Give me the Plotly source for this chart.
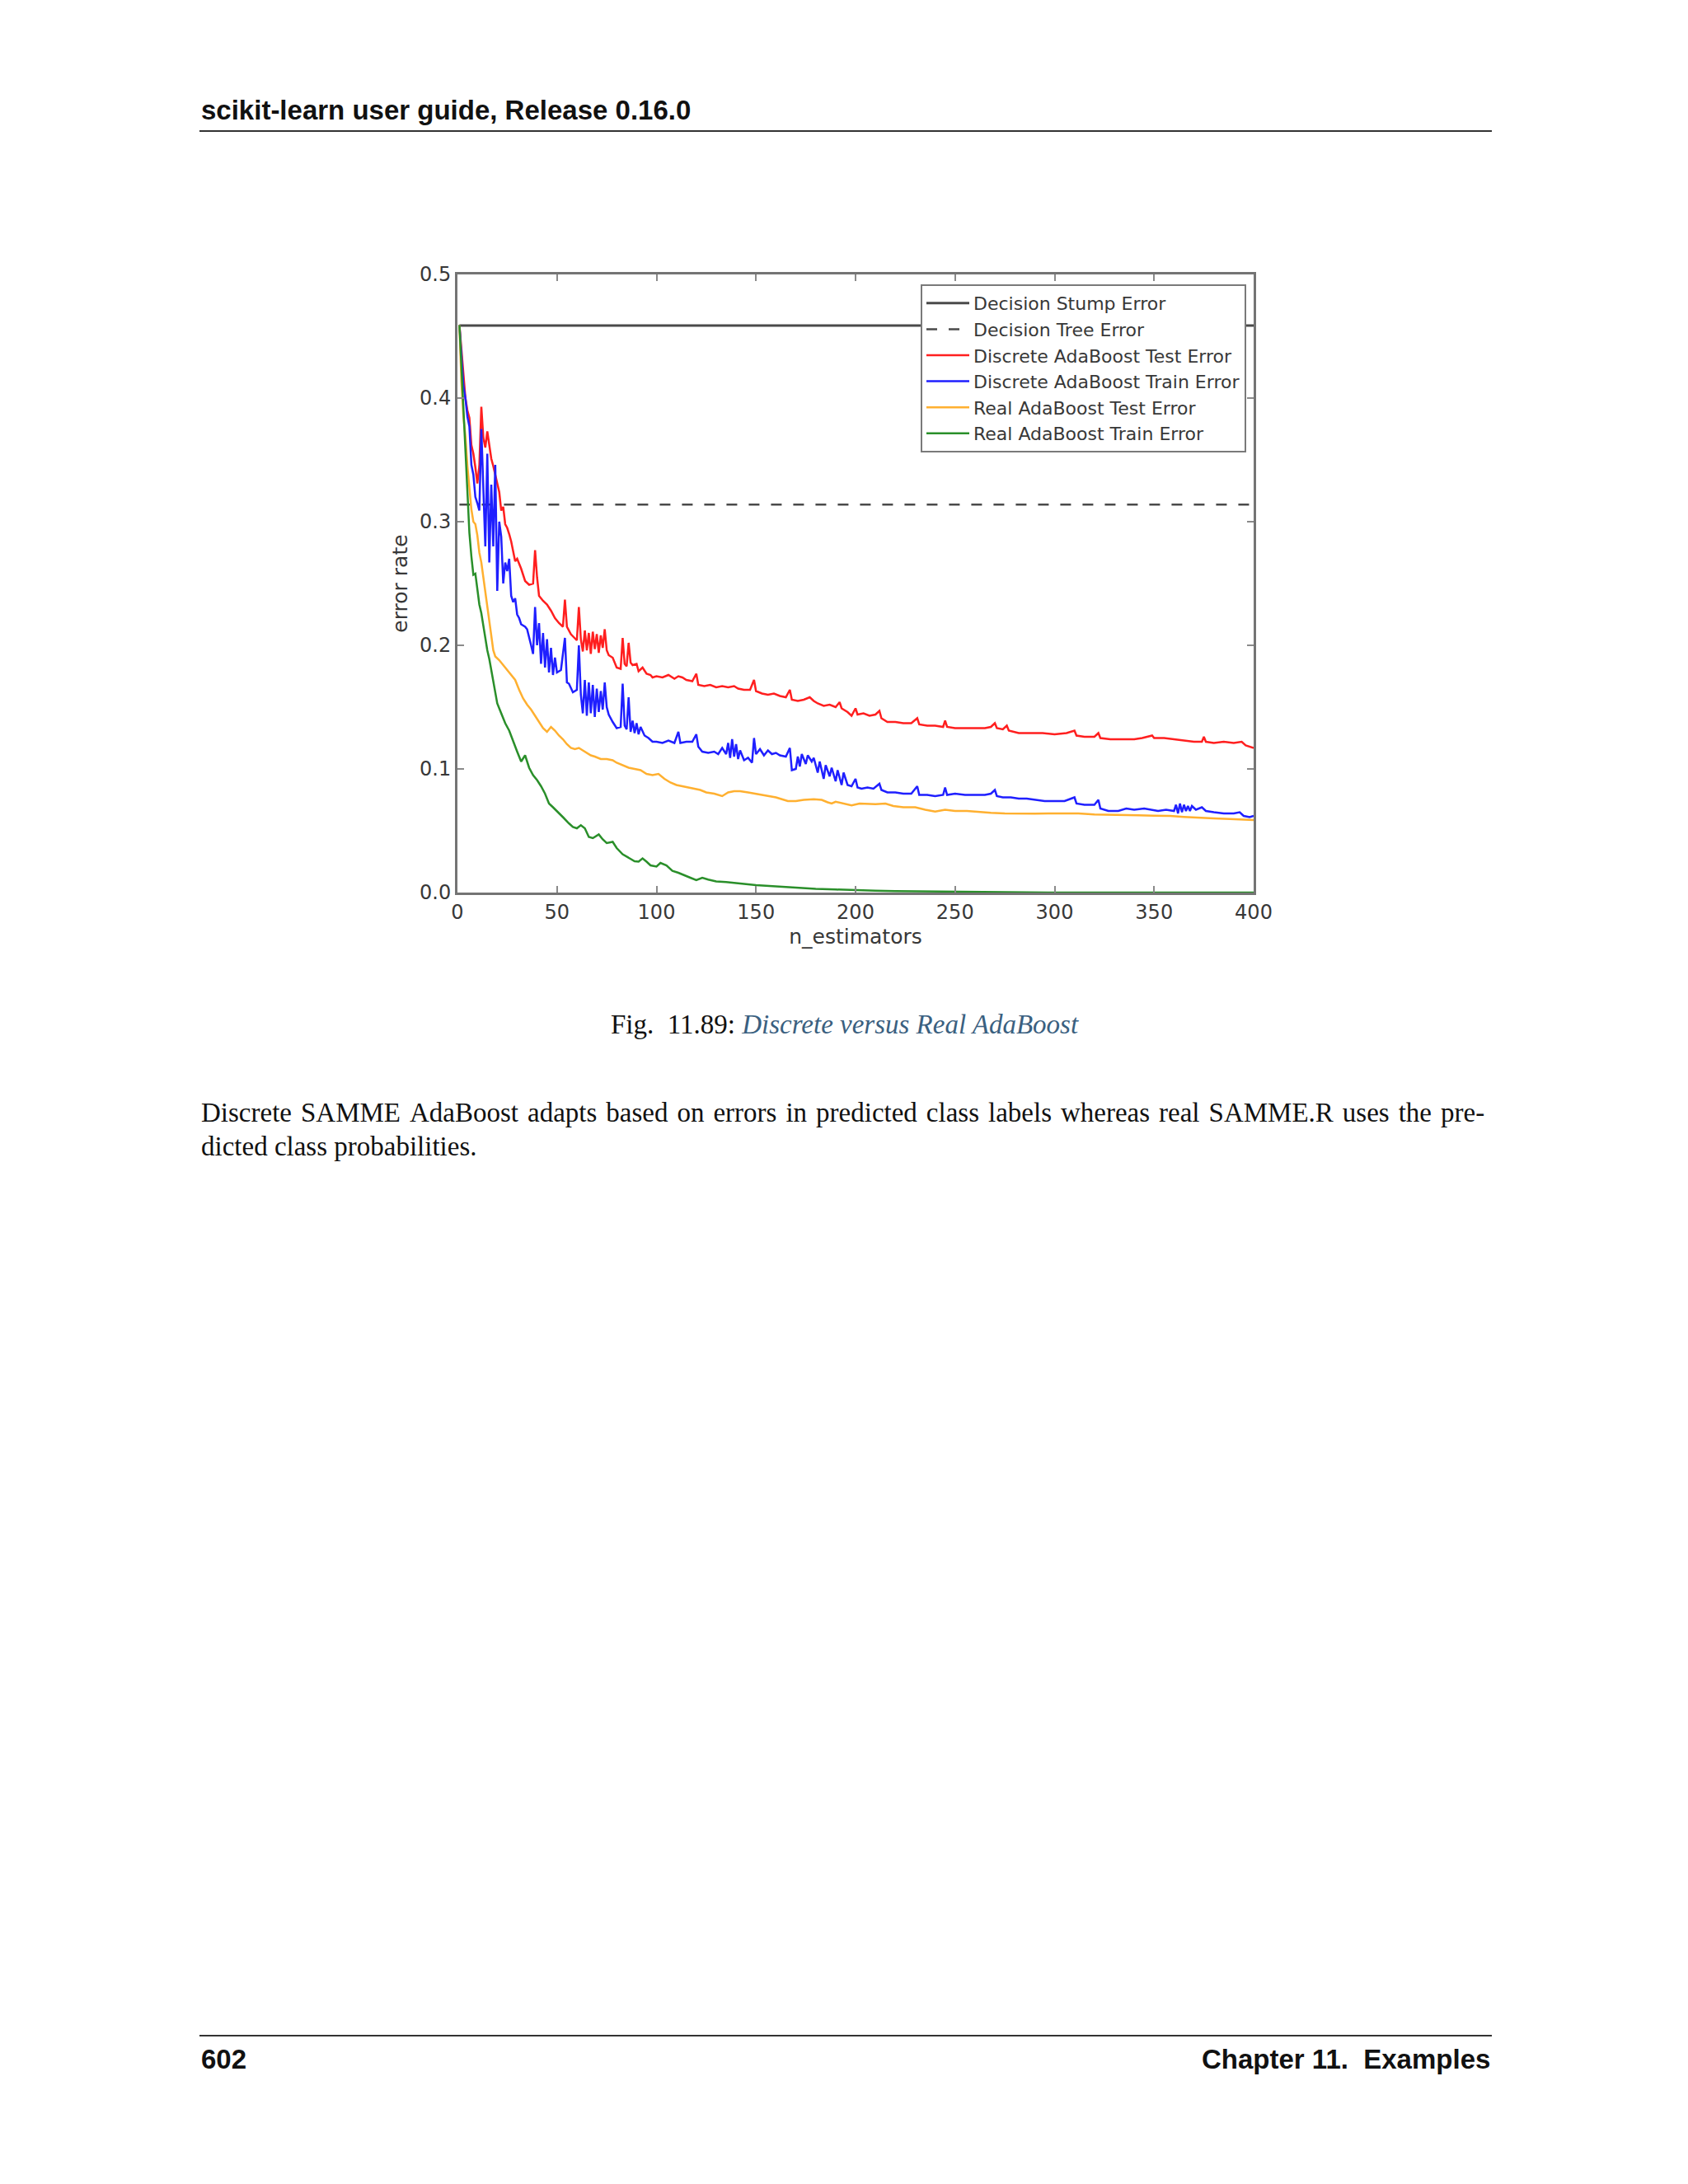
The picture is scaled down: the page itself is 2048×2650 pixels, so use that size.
import plotly.graph_objects as go

PAGE_W, PAGE_H = 2048, 2650
OFF = 8  # browser body margin
W, H = PAGE_W - 2 * OFF, PAGE_H - 2 * OFF

# ---------------- data ----------------
baseline_n = [1, 400]
stump_err = 0.4586
tree_err = 0.3138

disc_test_n = [1, 2, 3, 4, 5, 6, 7, 8, 9, 10, 11, 12, 13, 14, 15, 16, 17, 18, 19, 20,
               21, 22, 23, 24, 25, 26, 27, 28, 29, 30, 32, 34, 36, 38, 39, 40, 41, 43, 45, 47,
               49, 51, 53, 54, 55, 57, 59, 60, 61, 62, 63, 64, 65, 66, 67, 68, 69, 70, 71, 72,
               73, 74, 75, 76, 78, 80, 82, 83, 84, 85, 86, 87, 88, 90, 91, 93, 95, 97, 98, 100,
               103, 106, 109, 111, 113, 115, 118, 120, 121, 124, 127, 130, 133, 136, 139, 141, 144, 147, 149, 150,
               153, 156, 159, 162, 165, 167, 168, 171, 174, 177, 179, 181, 184, 187, 190, 192, 193, 196, 198, 200,
               201, 204, 207, 210, 212, 213, 216, 220, 224, 228, 231, 232, 236, 240, 244, 245, 246, 250, 255, 260,
               265, 268, 270, 271, 274, 276, 277, 282, 288, 294, 300, 306, 310, 311, 315, 320, 322, 323, 328, 334,
               340, 344, 349, 350, 355, 360, 365, 370, 374, 375, 376, 380, 385, 390, 394, 396, 400]
disc_test_err = [0.459, 0.440, 0.418, 0.400, 0.390, 0.384, 0.362, 0.355, 0.344, 0.331, 0.345, 0.393, 0.368, 0.360, 0.373, 0.360, 0.351, 0.345, 0.338, 0.330,
                 0.324, 0.309, 0.312, 0.298, 0.295, 0.290, 0.284, 0.276, 0.268, 0.270, 0.262, 0.252, 0.249, 0.250, 0.277, 0.255, 0.240, 0.236, 0.233, 0.228,
                 0.222, 0.218, 0.215, 0.237, 0.215, 0.209, 0.206, 0.204, 0.231, 0.205, 0.195, 0.212, 0.196, 0.210, 0.193, 0.211, 0.197, 0.209, 0.194, 0.208,
                 0.198, 0.213, 0.196, 0.192, 0.190, 0.182, 0.181, 0.206, 0.185, 0.183, 0.202, 0.186, 0.184, 0.185, 0.179, 0.182, 0.177, 0.176, 0.174, 0.175,
                 0.174, 0.176, 0.173, 0.175, 0.174, 0.172, 0.171, 0.177, 0.168, 0.167, 0.168, 0.166, 0.167, 0.166, 0.167, 0.165, 0.164, 0.164, 0.172, 0.163,
                 0.161, 0.160, 0.161, 0.159, 0.158, 0.164, 0.156, 0.155, 0.156, 0.158, 0.155, 0.153, 0.151, 0.152, 0.150, 0.154, 0.149, 0.146, 0.143, 0.149,
                 0.144, 0.145, 0.143, 0.144, 0.147, 0.141, 0.138, 0.138, 0.137, 0.137, 0.141, 0.136, 0.135, 0.135, 0.134, 0.139, 0.134, 0.133, 0.133, 0.133,
                 0.133, 0.134, 0.137, 0.133, 0.132, 0.135, 0.131, 0.129, 0.129, 0.129, 0.128, 0.129, 0.131, 0.127, 0.126, 0.126, 0.129, 0.125, 0.124, 0.124,
                 0.124, 0.125, 0.127, 0.125, 0.125, 0.124, 0.123, 0.122, 0.122, 0.126, 0.122, 0.121, 0.122, 0.121, 0.122, 0.119, 0.117]

disc_train_n = [1, 2, 3, 4, 5, 6, 7, 8, 9, 10, 11, 12, 13, 14, 15, 16, 17, 18, 19, 20,
                21, 22, 23, 24, 25, 26, 27, 28, 29, 30, 31, 32, 34, 35, 37, 38, 39, 40, 41, 42,
                43, 44, 45, 46, 47, 48, 49, 50, 52, 54, 55, 56, 58, 60, 61, 62, 63, 64, 65, 66,
                67, 68, 69, 70, 71, 72, 73, 74, 75, 76, 78, 80, 82, 83, 84, 85, 86, 87, 88, 89,
                90, 91, 92, 94, 96, 98, 100, 103, 106, 109, 111, 112, 115, 118, 120, 121, 123, 126, 129, 131,
                133, 135, 136, 137, 138, 139, 140, 141, 142, 144, 146, 148, 149, 150, 152, 154, 156, 158, 160, 162,
                165, 167, 168, 170, 171, 172, 173, 175, 176, 178, 179, 181, 182, 184, 185, 187, 188, 190, 191, 193,
                194, 196, 198, 200, 201, 203, 206, 209, 212, 213, 216, 220, 224, 228, 231, 232, 236, 240, 244, 245,
                246, 250, 255, 260, 265, 268, 270, 271, 274, 278, 282, 286, 290, 295, 300, 305, 310, 311, 315, 320,
                322, 323, 327, 332, 336, 340, 345, 348, 352, 356, 360, 361, 362, 363, 364, 365, 366, 367, 368, 369,
                371, 374, 376, 380, 385, 390, 393, 395, 398, 400]
disc_train_err = [0.459, 0.435, 0.410, 0.400, 0.385, 0.377, 0.346, 0.338, 0.320, 0.315, 0.309, 0.375, 0.320, 0.280, 0.355, 0.267, 0.330, 0.280, 0.346, 0.244,
                  0.300, 0.288, 0.250, 0.267, 0.260, 0.270, 0.240, 0.235, 0.238, 0.225, 0.222, 0.217, 0.215, 0.213, 0.200, 0.193, 0.231, 0.200, 0.218, 0.185,
                  0.210, 0.182, 0.205, 0.178, 0.198, 0.176, 0.190, 0.178, 0.180, 0.206, 0.170, 0.169, 0.162, 0.164, 0.200, 0.160, 0.145, 0.172, 0.143, 0.170,
                  0.145, 0.168, 0.142, 0.165, 0.146, 0.163, 0.148, 0.170, 0.150, 0.144, 0.138, 0.133, 0.134, 0.169, 0.135, 0.132, 0.158, 0.130, 0.139, 0.129,
                  0.137, 0.128, 0.134, 0.127, 0.125, 0.122, 0.122, 0.121, 0.123, 0.121, 0.130, 0.121, 0.122, 0.122, 0.128, 0.118, 0.114, 0.113, 0.114, 0.112,
                  0.117, 0.112, 0.121, 0.109, 0.124, 0.110, 0.120, 0.108, 0.115, 0.107, 0.109, 0.105, 0.125, 0.112, 0.116, 0.111, 0.115, 0.112, 0.113, 0.111,
                  0.110, 0.117, 0.099, 0.100, 0.110, 0.102, 0.112, 0.104, 0.111, 0.106, 0.109, 0.097, 0.106, 0.092, 0.103, 0.094, 0.101, 0.090, 0.099, 0.087,
                  0.097, 0.087, 0.086, 0.092, 0.085, 0.084, 0.085, 0.084, 0.088, 0.083, 0.081, 0.081, 0.080, 0.080, 0.086, 0.079, 0.079, 0.078, 0.079, 0.085,
                  0.079, 0.080, 0.079, 0.079, 0.079, 0.080, 0.083, 0.078, 0.077, 0.077, 0.076, 0.076, 0.075, 0.074, 0.074, 0.074, 0.077, 0.072, 0.071, 0.071,
                  0.075, 0.068, 0.066, 0.066, 0.068, 0.067, 0.068, 0.067, 0.066, 0.067, 0.066, 0.071, 0.064, 0.072, 0.065, 0.071, 0.066, 0.070, 0.066, 0.070,
                  0.067, 0.069, 0.066, 0.065, 0.064, 0.064, 0.065, 0.062, 0.061, 0.062]

real_test_n = [1, 2, 3, 4, 5, 6, 7, 8, 9, 10, 11, 12, 13, 14, 15, 16, 17, 18, 19, 21,
               23, 25, 27, 29, 31, 33, 35, 37, 39, 41, 43, 45, 47, 49, 51, 53, 55, 57, 59, 61,
               63, 65, 67, 69, 72, 75, 78, 80, 83, 86, 89, 92, 95, 98, 101, 104, 107, 110, 113, 116,
               119, 122, 125, 129, 133, 136, 139, 142, 146, 150, 154, 157, 160, 163, 166, 170, 174, 179, 183, 186,
               188, 190, 194, 198, 202, 206, 210, 215, 219, 224, 230, 235, 240, 245, 250, 256, 262, 268, 275, 282,
               290, 298, 305, 312, 320, 328, 335, 342, 350, 358, 365, 372, 380, 388, 395, 400]
real_test_err = [0.459, 0.413, 0.385, 0.369, 0.345, 0.329, 0.310, 0.300, 0.298, 0.289, 0.275, 0.267, 0.255, 0.244, 0.232, 0.220, 0.208, 0.196, 0.191, 0.188,
                 0.184, 0.180, 0.176, 0.172, 0.164, 0.157, 0.152, 0.148, 0.143, 0.138, 0.133, 0.130, 0.134, 0.131, 0.127, 0.124, 0.120, 0.117, 0.116, 0.117,
                 0.115, 0.113, 0.111, 0.110, 0.108, 0.108, 0.107, 0.105, 0.103, 0.101, 0.100, 0.099, 0.096, 0.095, 0.096, 0.092, 0.089, 0.087, 0.086, 0.085,
                 0.084, 0.083, 0.081, 0.080, 0.078, 0.081, 0.082, 0.082, 0.081, 0.080, 0.079, 0.078, 0.077, 0.0755, 0.074, 0.074, 0.075, 0.0755, 0.075, 0.073,
                 0.072, 0.0735, 0.072, 0.0705, 0.072, 0.0715, 0.0715, 0.072, 0.070, 0.069, 0.069, 0.067, 0.0655, 0.067, 0.066, 0.066, 0.065, 0.0645, 0.064, 0.0638,
                 0.0638, 0.064, 0.0642, 0.064, 0.0632, 0.0628, 0.0624, 0.0625, 0.0622, 0.062, 0.0612, 0.0605, 0.060, 0.0595, 0.059, 0.0587]

real_train_n = [1, 2, 3, 4, 5, 6, 7, 8, 9, 10, 11, 12, 13, 14, 15, 16, 17, 18, 19, 20,
                22, 24, 26, 28, 30, 32, 34, 36, 38, 40, 42, 44, 46, 48, 50, 53, 56, 58, 60, 62,
                64, 66, 68, 71, 73, 75, 78, 80, 83, 86, 89, 91, 93, 95, 97, 100, 102, 105, 108, 111,
                114, 117, 120, 123, 126, 130, 135, 140, 145, 150, 155, 160, 170, 180, 190, 200, 210, 220, 230, 245,
                260, 280, 300, 400]
real_train_err = [0.459, 0.424, 0.390, 0.360, 0.324, 0.291, 0.272, 0.257, 0.258, 0.245, 0.233, 0.226, 0.215, 0.205, 0.196, 0.189, 0.180, 0.170, 0.160, 0.153,
                  0.145, 0.137, 0.131, 0.122, 0.114, 0.106, 0.111, 0.101, 0.095, 0.091, 0.086, 0.080, 0.072, 0.069, 0.066, 0.061, 0.056, 0.053, 0.052, 0.0545,
                  0.052, 0.045, 0.044, 0.047, 0.043, 0.040, 0.041, 0.036, 0.031, 0.028, 0.0253, 0.025, 0.0276, 0.025, 0.022, 0.021, 0.024, 0.022, 0.0176, 0.016,
                  0.0142, 0.012, 0.010, 0.012, 0.0105, 0.009, 0.0085, 0.0075, 0.007, 0.006, 0.0055, 0.005, 0.0045, 0.003, 0.0025, 0.0018, 0.0015, 0.0012, 0.001, 0.0008,
                  0.0005, 0.0003, 0.0, 0.0]

x_ticks = [0, 50, 100, 150, 200, 250, 300, 350, 400]
y_ticks = [0.0, 0.1, 0.2, 0.3, 0.4, 0.5]

series_names = ["Decision Stump Error", "Decision Tree Error",
                "Discrete AdaBoost Test Error", "Discrete AdaBoost Train Error",
                "Real AdaBoost Test Error", "Real AdaBoost Train Error"]

header_text = "scikit-learn user guide, Release 0.16.0"
caption_prefix = "Fig.&nbsp; 11.89: "
caption_title = "Discrete versus Real AdaBoost"
body_lines = ["Discrete SAMME AdaBoost adapts based on errors in predicted class labels whereas real SAMME.R uses the pre-",
              "dicted class probabilities."]
footer_left = "602"
footer_right = "Chapter 11.&nbsp; Examples"


# ---------------- layout helpers (page pixel -> paper fraction) ----------------
def px(x):
    return (x - OFF) / W


def py(y):
    return 1 - (y - OFF) / H


def justify(line):
    # widen inter-word gaps slightly (text is justified in the original)
    return line.replace(" ", " \u200a")


CHART_FONT = "DejaVu Sans"
TXT = "#383838"

fig = go.Figure()
fig.add_trace(go.Scatter(x=baseline_n, y=[stump_err] * 2, mode="lines", name=series_names[0],
                         line=dict(color="#4a4a4a", width=3)))
fig.add_trace(go.Scatter(x=baseline_n, y=[tree_err] * 2, mode="lines", name=series_names[1],
                         line=dict(color="#4a4a4a", width=2.5, dash="13px,14px")))
fig.add_trace(go.Scatter(x=disc_test_n, y=disc_test_err, mode="lines", name=series_names[2],
                         line=dict(color="#ff1f1f", width=2.5)))
fig.add_trace(go.Scatter(x=disc_train_n, y=disc_train_err, mode="lines", name=series_names[3],
                         line=dict(color="#1f1fff", width=2.5)))
fig.add_trace(go.Scatter(x=real_test_n, y=real_test_err, mode="lines", name=series_names[4],
                         line=dict(color="#ffb030", width=2.5)))
fig.add_trace(go.Scatter(x=real_train_n, y=real_train_err, mode="lines", name=series_names[5],
                         line=dict(color="#2a8f2a", width=2.5)))

axis_common = dict(showgrid=False, zeroline=False, showline=True, linecolor="#747474", linewidth=3,
                   mirror="allticks", ticks="inside", ticklen=8, tickwidth=2, tickcolor="#8a8a8a",
                   tickfont=dict(family=CHART_FONT, size=24, color=TXT), automargin=False)

fig.update_layout(
    width=W, height=H,
    margin=dict(l=0, r=0, t=0, b=0),
    paper_bgcolor="white", plot_bgcolor="white",
    showlegend=True,
    legend=dict(x=px(1117), y=py(345), xanchor="left", yanchor="top",
                bgcolor="white", bordercolor="#7a7a7a", borderwidth=2,
                font=dict(family=CHART_FONT, size=22, color=TXT),
                itemwidth=52, tracegroupgap=0),
    xaxis=dict(domain=[px(555), px(1521)], range=[0, 400], tickvals=x_ticks,
               title=dict(text="n_estimators", standoff=8,
                          font=dict(family=CHART_FONT, size=25, color=TXT)),
               **axis_common),
    yaxis=dict(domain=[py(1083), py(333)], range=[0, 0.5], tickvals=y_ticks, tickformat=".1f",
               title=dict(text="error rate", standoff=8,
                          font=dict(family=CHART_FONT, size=25, color=TXT)),
               **axis_common),
)

annotations = [
    dict(text="<b>" + header_text + "</b>", x=px(242), y=py(134), xanchor="left", yanchor="middle",
         font=dict(family="Liberation Sans", size=33, color="#111111")),
    dict(text=caption_prefix + "<i><span style='color:#3a6080'>" + caption_title + "</span></i>",
         x=px(1025), y=py(1243), xanchor="center", yanchor="middle",
         font=dict(family="Liberation Serif", size=33, color="#111111")),
    dict(text=justify(body_lines[0]), x=px(242), y=py(1350), xanchor="left", yanchor="middle",
         font=dict(family="Liberation Serif", size=33, color="#111111")),
    dict(text=body_lines[1], x=px(242), y=py(1391), xanchor="left", yanchor="middle",
         font=dict(family="Liberation Serif", size=33, color="#111111")),
    dict(text="<b>" + footer_left + "</b>", x=px(242), y=py(2498), xanchor="left", yanchor="middle",
         font=dict(family="Liberation Sans", size=33, color="#111111")),
    dict(text="<b>" + footer_right + "</b>", x=px(1810), y=py(2498), xanchor="right", yanchor="middle",
         font=dict(family="Liberation Sans", size=33, color="#111111")),
]
for a in annotations:
    a.update(xref="paper", yref="paper", showarrow=False)
fig.update_layout(annotations=annotations)

fig.add_shape(type="line", xref="paper", yref="paper", x0=px(242), x1=px(1810), y0=py(159), y1=py(159),
              line=dict(color="#333333", width=2))
fig.add_shape(type="line", xref="paper", yref="paper", x0=px(242), x1=px(1810), y0=py(2470), y1=py(2470),
              line=dict(color="#333333", width=2))

fig.write_html("out.html")
